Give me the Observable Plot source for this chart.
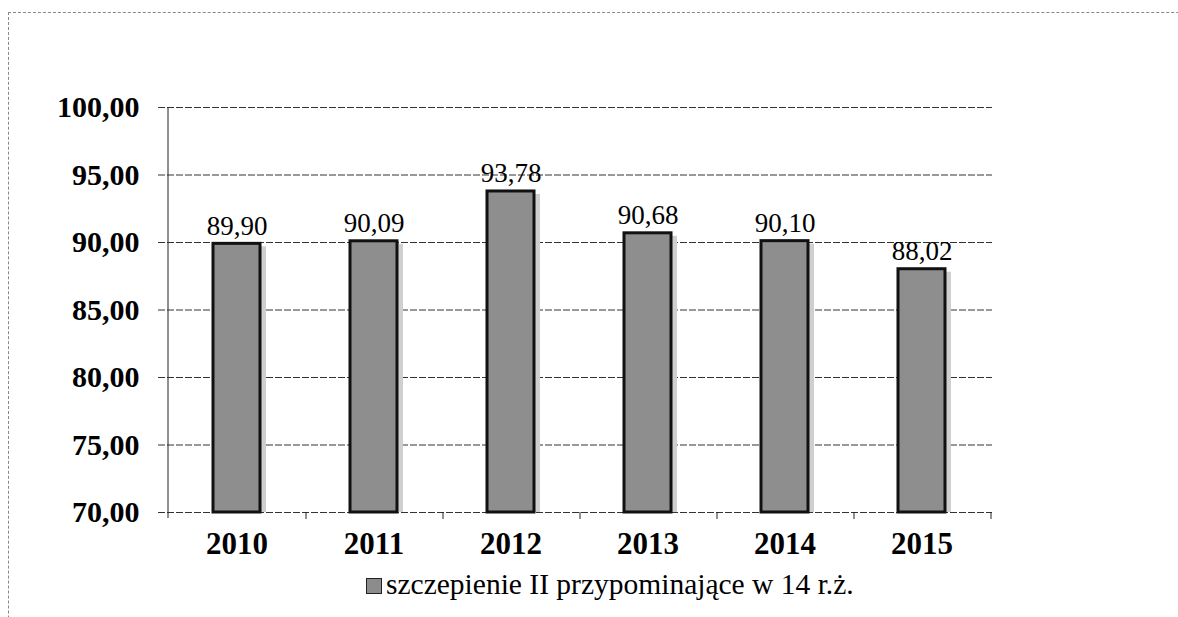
<!DOCTYPE html>
<html>
<head>
<meta charset="utf-8">
<script src="https://cdn.jsdelivr.net/npm/d3@7"></script>
<script src="https://cdn.jsdelivr.net/npm/@observablehq/plot@0.6"></script>
<style>
  html, body { margin: 0; padding: 0; background: #fff; }
  #wrap { position: relative; width: 1178px; height: 617px; overflow: hidden; }
  #frame { position: absolute; left: 8px; top: 12px; width: 1300px; height: 800px;
           border-top: 1px dashed #888; border-left: 1px dashed #888; }
  #chart { position: absolute; left: 0; top: 0; }
  #legend { position: absolute; left: 366px; top: 568px; height: 32px; line-height: 32px;
            font-family: "Liberation Serif", "Times New Roman", serif; font-size: 29.5px; color: #000; white-space: nowrap; }
  #legend .sw { display: inline-block; width: 14px; height: 14px; background: #8c8c8c;
                border: 1px solid #222; margin-right: 4px; vertical-align: 0px; }
</style>
</head>
<body>
<div id="wrap">
  <div id="frame"></div>
  <div id="chart"></div>
  <div id="legend"><span class="sw"></span><span id="legendText"></span></div>
</div>
<script>
const years = ["2010", "2011", "2012", "2013", "2014", "2015"];
const values = [89.90, 90.09, 93.78, 90.68, 90.10, 88.02];
const yTicks = [70, 75, 80, 85, 90, 95, 100];
const seriesName = "szczepienie II przypominające w 14 r.ż.";

const data = years.map((y, i) => ({year: y, value: values[i]}));
const fmt = v => v.toFixed(2).replace(".", ",");
const font = '"Liberation Serif", "Times New Roman", serif';

document.getElementById("legendText").textContent = seriesName;

const chart = Plot.plot({
  width: 1178,
  height: 570,
  marginLeft: 166,
  marginRight: 186,
  marginTop: 107,
  marginBottom: 58,
  style: { fontFamily: font, background: "transparent", overflow: "visible" },
  x: { domain: years, paddingInner: 0.66, paddingOuter: 0.33, label: null },
  y: { domain: [70, 100], label: null },
  marks: [
    Plot.ruleY(yTicks, { y: d => d, stroke: "#333", strokeDasharray: "7,2", insetLeft: -8 }),
    Plot.barY(data, { x: "year", y1: 70, y2: "value", fill: "#cfcfcf", dx: 6, insetTop: 3 }),
    Plot.barY(data, { x: "year", y1: 70, y2: "value", fill: "#8e8e8e", stroke: "#111", strokeWidth: 3 }),
    Plot.ruleX(years, { x: d => d, dx: 69, y1: 70, y2: 70, insetBottom: -7, stroke: "#222" }),
    Plot.ruleX([years[0]], { x: d => d, dx: -69, y1: 100, y2: 70, insetBottom: -6, stroke: "#222" }),
    Plot.text(data, { x: "year", y: "value", text: d => fmt(d.value), lineAnchor: "bottom", dy: -9,
      fontSize: 27, fill: "#000" }),
    Plot.axisY(yTicks, { tickSize: 0, tickPadding: 27, tickFormat: fmt, fontSize: 30, fontWeight: "bold", fill: "#000" }),
    Plot.axisX({ tickSize: 0, tickPadding: 19, fontSize: 31, fontWeight: "bold", fill: "#000" })
  ]
});
document.getElementById("chart").appendChild(chart);
</script>
</body>
</html>
